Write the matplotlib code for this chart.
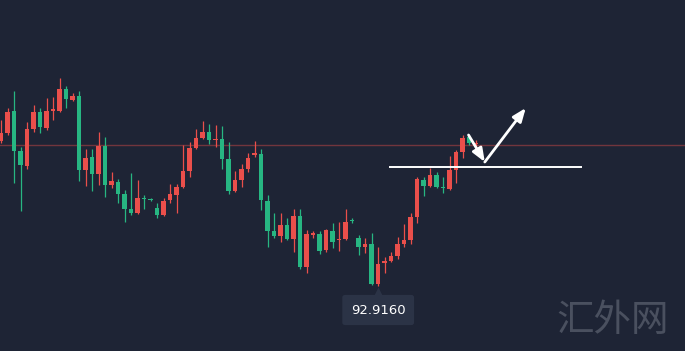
import matplotlib
matplotlib.use('Agg')
import matplotlib.pyplot as plt
import matplotlib.transforms as mtransforms
import numpy as np

# OHLC (one candle per bar, left to right)
opens = [94.369, 94.449, 94.666, 94.269, 94.116, 94.483, 94.659, 94.493, 94.671, 94.669,
         94.886, 94.776, 94.816, 94.076, 94.209, 94.036, 94.316, 93.926, 93.959, 93.836,
         93.686, 93.649, 93.793, 93.779, 93.693, 93.626, 93.776, 93.826, 93.903, 94.069,
         94.299, 94.399, 94.456, 94.378, 94.386, 94.186, 93.869, 93.976, 94.083, 94.231,
         94.236, 93.769, 93.469, 93.416, 93.526, 93.383, 93.616, 93.103, 93.431, 93.436,
         93.276, 93.466, 93.378, 93.383, 93.571, 93.399, 93.309, 93.336, 92.936, 93.143,
         93.169, 93.216, 93.336, 93.376, 93.609, 93.976, 93.916, 94.026, 93.909, 93.886,
         94.076, 94.253, 94.409, 94.336]
highs = [94.576, 94.696, 94.869, 94.306, 94.559, 94.726, 94.696, 94.793, 94.806, 94.993,
         94.916, 94.849, 94.869, 94.283, 94.283, 94.459, 94.406, 94.059, 93.991, 93.876,
         94.043, 93.976, 93.826, 93.793, 93.749, 93.793, 93.936, 93.936, 94.326, 94.359,
         94.483, 94.569, 94.536, 94.526, 94.516, 94.359, 94.069, 94.136, 94.243, 94.369,
         94.283, 93.826, 93.649, 93.649, 93.593, 93.683, 93.683, 93.476, 93.469, 93.469,
         93.483, 93.549, 93.559, 93.683, 93.593, 93.426, 93.393, 93.449, 93.309, 93.203,
         93.259, 93.411, 93.534, 93.646, 94.009, 94.009, 94.099, 94.059, 94.009, 94.216,
         94.276, 94.426, 94.426, 94.376]
lows = [94.346, 94.426, 93.946, 93.669, 94.086, 94.459, 94.449, 94.476, 94.576, 94.659,
        94.693, 94.771, 93.969, 93.916, 93.869, 93.926, 93.806, 93.893, 93.743, 93.556,
        93.631, 93.636, 93.683, 93.766, 93.593, 93.616, 93.749, 93.643, 93.893, 94.003,
        94.286, 94.391, 94.336, 94.309, 94.083, 93.836, 93.856, 93.903, 94.059, 94.203,
        93.676, 93.303, 93.393, 93.359, 93.376, 93.259, 93.083, 93.049, 93.393, 93.236,
        93.259, 93.293, 93.269, 93.376, 93.543, 93.226, 93.249, 92.931, 92.916, 93.049,
        93.161, 93.191, 93.304, 93.338, 93.543, 93.819, 93.909, 93.893, 93.843, 93.876,
        93.943, 94.193, 94.326, 94.303]
closes = [94.449, 94.659, 94.269, 94.126, 94.483, 94.659, 94.503, 94.669, 94.676, 94.886,
          94.783, 94.816, 94.076, 94.199, 94.036, 94.316, 93.926, 93.966, 93.836, 93.686,
          93.643, 93.793, 93.783, 93.773, 93.626, 93.769, 93.836, 93.903, 94.069, 94.299,
          94.399, 94.456, 94.376, 94.383, 94.186, 93.869, 93.976, 94.083, 94.199, 94.236,
          93.776, 93.469, 93.416, 93.526, 93.386, 93.616, 93.103, 93.436, 93.436, 93.269,
          93.476, 93.359, 93.383, 93.553, 93.566, 93.309, 93.336, 92.936, 93.136, 93.169,
          93.216, 93.336, 93.376, 93.609, 93.986, 93.916, 94.026, 93.909, 93.893, 94.076,
          94.253, 94.393, 94.343, 94.343]

resistance = 94.326      # thin red line across the chart
support = 94.106         # white line drawn by hand
support_span = [59.7, 89.4]
down_arrow = [(71.9, 94.426), (74.4, 94.156)]
up_arrow = [(74.4, 94.156), (80.7, 94.696)]
low_label = "92.9160"

bg = '#1e2435'
up_col = '#ea4f4b'
down_col = '#27b682'
box_col = '#2b3346'

fig = plt.figure(figsize=(6.85, 3.51), dpi=100)
fig.patch.set_facecolor(bg)
ax = fig.add_axes([0, 0, 1, 1])
ax.set_facecolor(bg)

o = np.array(opens)
h = np.array(highs)
l = np.array(lows)
c = np.array(closes)
x = np.arange(len(o))
cols = np.where(c >= o, up_col, down_col)

ax.axhline(resistance, color='#72353d', lw=1, zorder=1)

ax.vlines(x, l, h, colors=cols, lw=0.9, zorder=2)
body = np.maximum(np.abs(c - o), 0.01)
ax.bar(x, body, bottom=np.minimum(o, c), width=0.7, color=cols, zorder=3)

ax.hlines(support, support_span[0], support_span[1], color='white', lw=1.4, zorder=4)
for a in (down_arrow, up_arrow):
    ax.annotate('', xy=a[1], xytext=a[0],
                arrowprops=dict(arrowstyle='-|>,head_length=0.8,head_width=0.32',
                                color='white', lw=2, shrinkA=0, shrinkB=0),
                zorder=5)

# label under the lowest low, with a small pointer on top
imin = int(np.argmin(l))
ax.annotate(low_label, xy=(imin, l[imin]), xytext=(0, -24), textcoords='offset pixels',
            ha='center', va='center', color='white', fontsize=9.5,
            bbox=dict(boxstyle='round,pad=0.65,rounding_size=0.2', fc=box_col, ec='none'),
            zorder=6)
tri = mtransforms.offset_copy(ax.transData, fig=fig, x=0, y=-7, units='dots')
ax.plot([imin], [l[imin]], marker='^', ms=8, color=box_col, mec='none',
        transform=tri, zorder=7)

ax.text(613, 351 - 320, '汇外网', transform=None, ha='center', va='center',
        fontsize=27, color='#4a505f', family=['Noto Sans CJK SC', 'DejaVu Sans'])

ax.set_xlim(-0.18, 105.2)
ax.set_ylim(92.266, 95.776)
ax.axis('off')

fig.savefig('out.png', dpi=100, facecolor=bg)
